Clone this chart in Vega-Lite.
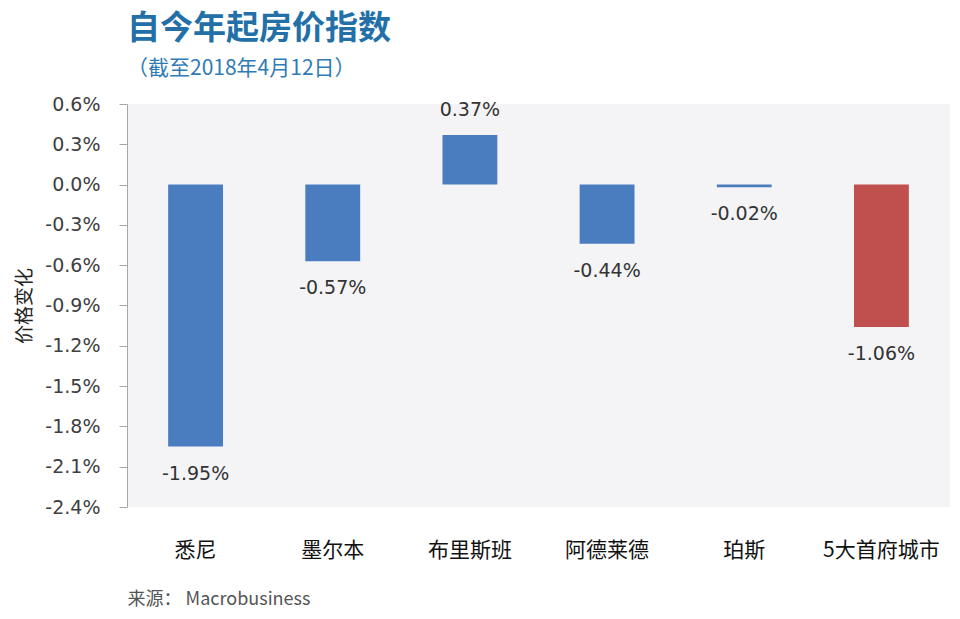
{
  "$schema": "https://vega.github.io/schema/vega-lite/v6.json",
  "width": 823,
  "height": 403,
  "padding": {"left": 15, "top": 13, "right": 8, "bottom": 8},
  "background": "white",
  "config": {
    "locale": {"number": {"decimal": ".", "thousands": ",", "grouping": [3], "currency": ["$", ""], "minus": "-"}},
    "view": {"fill": "#f4f4f6", "stroke": null},
    "font": "Noto Sans CJK SC"
  },
  "title": {
    "text": "自今年起房价指数",
    "subtitle": "（截至2018年4月12日）",
    "anchor": "start",
    "frame": "group",
    "fontSize": 33,
    "fontWeight": "bold",
    "color": "#2370a8",
    "subtitleFontSize": 21,
    "subtitleColor": "#2f7bb5",
    "subtitlePadding": 12,
    "offset": 16,
    "font": "Noto Sans CJK SC",
    "subtitleFont": "Noto Sans CJK SC"
  },
  "data": {
    "values": [
      {"city": "悉尼", "change": -0.0195, "group": "city"},
      {"city": "墨尔本", "change": -0.0057, "group": "city"},
      {"city": "布里斯班", "change": 0.0037, "group": "city"},
      {"city": "阿德莱德", "change": -0.0044, "group": "city"},
      {"city": "珀斯", "change": -0.0002, "group": "city"},
      {"city": "5大首府城市", "change": -0.0106, "group": "total"}
    ]
  },
  "encoding": {
    "x": {
      "field": "city",
      "type": "nominal",
      "sort": null,
      "scale": {"paddingInner": 0.6, "paddingOuter": 0.3},
      "axis": {
        "title": "来源： Macrobusiness",
        "titleAnchor": "start",
        "titleAlign": "left",
        "titleFontSize": 18,
        "titleFontWeight": "normal",
        "titleColor": "#555555",
        "titlePadding": 30,
        "labelAngle": 0,
        "labelFontSize": 21,
        "labelColor": "#111111",
        "labelPadding": 32,
        "domain": false,
        "ticks": false
      }
    }
  },
  "layer": [
    {
      "mark": {"type": "bar"},
      "encoding": {
        "y": {
          "field": "change",
          "type": "quantitative",
          "scale": {"domain": [-0.024, 0.006], "nice": false, "zero": false},
          "axis": {
            "title": "价格变化",
            "titleFontSize": 19,
            "titleFontWeight": "normal",
            "titleColor": "#222222",
            "titlePadding": 10,
            "values": [0.006, 0.003, 0, -0.003, -0.006, -0.009, -0.012, -0.015, -0.018, -0.021, -0.024],
            "format": ".1%",
            "labelFontSize": 19,
            "labelColor": "#404040",
            "labelFont": "DejaVu Sans",
            "labelPadding": 19,
            "grid": false,
            "domainColor": "#a6a6a6",
            "tickColor": "#a6a6a6",
            "tickSize": 8
          }
        },
        "color": {
          "field": "group",
          "type": "nominal",
          "scale": {"domain": ["city", "total"], "range": ["#4a7cc0", "#c0504d"]},
          "legend": null
        }
      }
    },
    {
      "mark": {"type": "rule", "color": "#999999", "strokeWidth": 1},
      "encoding": {"y": {"datum": 0}}
    },
    {
      "transform": [{"filter": "datum.change >= 0"}],
      "mark": {"type": "text", "fontSize": 19, "color": "#333333", "font": "DejaVu Sans", "dy": -25},
      "encoding": {
        "y": {"field": "change", "type": "quantitative"},
        "text": {"field": "change", "type": "quantitative", "format": ".2%"}
      }
    },
    {
      "transform": [{"filter": "datum.change < 0"}],
      "mark": {"type": "text", "fontSize": 19, "color": "#333333", "font": "DejaVu Sans", "dy": 27},
      "encoding": {
        "y": {"field": "change", "type": "quantitative"},
        "text": {"field": "change", "type": "quantitative", "format": ".2%"}
      }
    }
  ]
}
